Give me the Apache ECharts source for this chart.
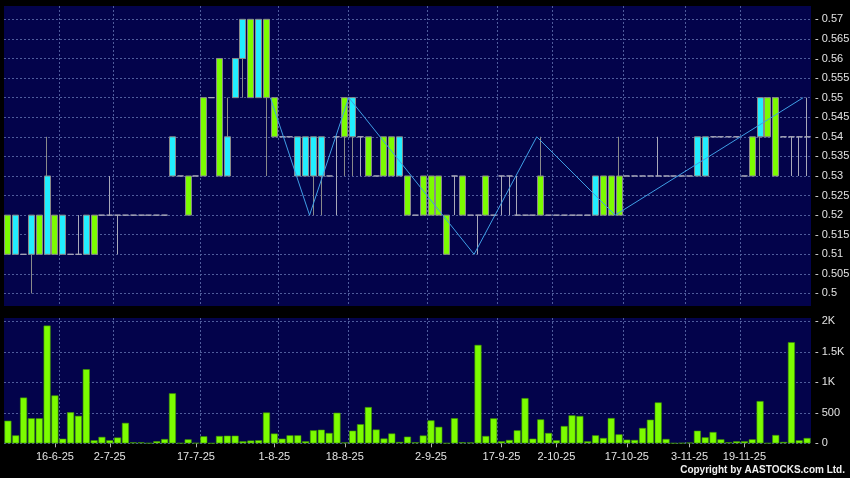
<!DOCTYPE html>
<html><head><meta charset="utf-8">
<script src="https://cdn.jsdelivr.net/npm/echarts@6/dist/echarts.min.js"></script>
<style>html,body{margin:0;padding:0;background:#000;}#c{width:850px;height:478px;}</style>
</head><body><div id="c"></div>
<script>
// ---- data ----
const dateLabels = ['16-6-25','2-7-25','17-7-25','1-8-25','18-8-25','2-9-25','17-9-25','2-10-25','17-10-25','3-11-25','19-11-25'];
const labelSlots = [6,13,24,34,43,54,63,70,79,87,94];

const open = [
 .51,.52,.51,.52,.51,.53,.51,.52,.51,.51,
 .52,.51,.52,.52,.52,.52,.52,.52,.52,.52,
 .52,.54,.53,.52,.53,.53,.55,.53,.54,.56,
 .57,.55,.57,.55,.54,.54,.54,.54,.54,.54,
 .54,.53,.54,.54,.55,.54,.53,.53,.53,.53,
 .54,.52,.52,.52,.52,.52,.51,.53,.52,.52,
 .52,.52,.52,.53,.53,.52,.52,.52,.52,.52,
 .52,.52,.52,.52,.52,.53,.52,.52,.52,.53,
 .53,.53,.53,.53,.53,.53,.53,.53,.54,.54,
 .54,.54,.54,.54,.53,.53,.55,.54,.53,.54,
 .54,.54,.54];
const close = [
 .52,.51,.51,.51,.52,.51,.52,.51,.51,.51,
 .51,.52,.52,.52,.52,.52,.52,.52,.52,.52,
 .52,.53,.53,.53,.53,.55,.55,.56,.53,.55,
 .56,.57,.55,.57,.55,.54,.54,.53,.53,.53,
 .53,.53,.54,.55,.54,.54,.54,.53,.54,.54,
 .53,.53,.52,.53,.53,.53,.52,.53,.53,.52,
 .52,.53,.52,.53,.53,.52,.52,.52,.53,.52,
 .52,.52,.52,.52,.52,.52,.53,.53,.53,.53,
 .53,.53,.53,.53,.53,.53,.53,.53,.53,.53,
 .54,.54,.54,.54,.53,.54,.54,.55,.55,.54,
 .54,.54,.54];
const low = [
 .51,.51,.51,.50,.51,.51,.51,.51,.51,.51,
 .51,.51,.52,.52,.51,.52,.52,.52,.52,.52,
 .52,.53,.53,.52,.53,.53,.55,.53,.53,.55,
 .55,.55,.55,.53,.54,.54,.54,.53,.53,.52,
 .52,.53,.52,.53,.53,.53,.53,.53,.53,.53,
 .53,.52,.52,.52,.52,.52,.51,.52,.52,.52,
 .51,.52,.52,.52,.52,.52,.52,.52,.52,.52,
 .52,.52,.52,.52,.52,.52,.52,.52,.52,.53,
 .53,.53,.53,.53,.53,.53,.53,.53,.53,.53,
 .54,.54,.54,.54,.53,.53,.53,.54,.53,.54,
 .53,.53,.53];
const high = [
 .52,.52,.51,.52,.52,.54,.52,.52,.51,.52,
 .52,.52,.52,.53,.52,.52,.52,.52,.52,.52,
 .52,.54,.53,.53,.53,.55,.55,.56,.55,.56,
 .57,.57,.57,.57,.55,.54,.54,.54,.54,.54,
 .54,.53,.54,.55,.55,.54,.54,.53,.54,.54,
 .54,.53,.52,.53,.53,.53,.52,.53,.53,.52,
 .52,.53,.52,.53,.53,.53,.52,.52,.54,.52,
 .52,.52,.52,.52,.52,.53,.53,.53,.54,.53,
 .53,.53,.53,.54,.53,.53,.53,.53,.54,.54,
 .54,.54,.54,.54,.53,.54,.55,.55,.55,.54,
 .54,.54,.55];
const volume = [
 370,130,750,410,410,1930,785,75,510,450,
 1215,50,105,50,95,335,15,15,3,35,
 70,820,3,65,5,115,0,120,125,125,
 33,45,50,505,160,76,131,131,33,213,
 223,169,501,13,207,313,594,226,79,161,
 22,109,16,128,376,270,2,412,16,13,
 1613,120,409,33,55,213,741,76,392,169,
 49,283,458,447,33,131,87,414,147,60,
 55,251,387,670,71,2,5,11,207,98,
 185,65,16,33,33,65,692,3,136,22,
 1657,49,87];
// zig-zag line turning points (index on the session boundaries) and values
const zigzagAt = [34,39,44,60,68,78,102];
const zigzagVal = [0.55,0.52,0.55,0.51,0.54,0.52,0.55];

// ---- build ----
const N = open.length;
const categories = open.map((_, i) => { const k = labelSlots.indexOf(i); return k >= 0 ? dateLabels[k] : 'd' + i; });
const boundaries = Array.from({length: N + 1}, (_, i) => 'b' + i);
const candles = open.map((o, i) => [o, close[i], low[i], high[i]]);
const zz = new Array(N + 1).fill(null);
zigzagAt.forEach((b, k) => { zz[b] = zigzagVal[k]; });

const splitAt = [7,14,25,35,44,54,63,70,79,87,94];
const isLabel = (i) => labelSlots.indexOf(i) >= 0;
const isSplit = (i) => splitAt.indexOf(i) >= 0;

const NAVY = '#03034b';
const GRIDC = '#4f5c9c';
const TXT = '#e2e2e2';
const FONT = 'Liberation Sans';
const dash = { type: [2, 2], color: GRIDC, width: 1 };

const L = 4, W = 807;
const chart = echarts.init(document.getElementById('c'), null, { renderer: 'canvas' });
chart.setOption({
  animation: false,
  backgroundColor: '#000',
  grid: [
    { left: L, top: 6, width: W, height: 300, show: true, backgroundColor: NAVY, borderWidth: 0, outerBoundsMode: 'none' },
    { left: L, top: 19.33, width: W, height: 274, show: false, outerBoundsMode: 'none' },
    { left: L, top: 318, width: W, height: 125.3, show: true, backgroundColor: NAVY, borderWidth: 0, outerBoundsMode: 'none' },
    { left: L, top: 321.3, width: W, height: 122, show: false, outerBoundsMode: 'none' }
  ],
  xAxis: [
    { type: 'category', gridIndex: 0, data: categories, boundaryGap: true,
      axisLine: { show: false }, axisTick: { show: false }, axisLabel: { show: false },
      splitLine: { show: true, interval: (i) => isSplit(i), showMaxLine: false, showMinLine: true, lineStyle: dash } },
    { type: 'category', gridIndex: 1, data: categories, show: false },
    { type: 'category', gridIndex: 0, data: boundaries, boundaryGap: false, show: false },
    { type: 'category', gridIndex: 2, data: categories, boundaryGap: true,
      axisLine: { show: false },
      axisTick: { show: true, interval: (i) => isLabel(i), alignWithLabel: true, length: 4, lineStyle: { color: '#b0b0b0' } },
      axisLabel: { interval: (i) => isLabel(i), color: TXT, fontSize: 11, fontFamily: FONT, margin: 8 },
      splitLine: { show: true, interval: (i) => isSplit(i), showMaxLine: false, lineStyle: dash } },
    { type: 'category', gridIndex: 3, data: categories, show: false }
  ],
  yAxis: [
    { type: 'value', gridIndex: 0, min: 0.4968, max: 0.5734, show: false, splitLine: { show: false } },
    { type: 'value', gridIndex: 1, position: 'right', min: 0.5, max: 0.57, interval: 0.005,
      axisLine: { show: false }, axisTick: { show: false },
      axisLabel: { formatter: (v) => '- ' + (+v.toFixed(3)), color: TXT, fontSize: 11, fontFamily: FONT, margin: 4 },
      splitLine: { show: true, lineStyle: dash } },
    { type: 'value', gridIndex: 2, min: 0, max: 2054, show: false, splitLine: { show: false } },
    { type: 'value', gridIndex: 3, position: 'right', min: 0, max: 2000, interval: 500,
      axisLine: { show: false }, axisTick: { show: false },
      axisLabel: { formatter: (v) => '- ' + (v >= 1000 ? (v / 1000) + 'K' : v), color: TXT, fontSize: 11, fontFamily: FONT, margin: 4 },
      splitLine: { show: true, lineStyle: dash } }
  ],
  series: [
    { type: 'candlestick', xAxisIndex: 0, yAxisIndex: 0, data: candles, barWidth: 6.5,
      itemStyle: { color: '#7cfc00', color0: '#22eeff', borderColor: '#8a8a8a', borderColor0: '#8a8a8a', borderColorDoji: '#a9a9b9', borderWidth: 1 } },
    { type: 'line', xAxisIndex: 2, yAxisIndex: 0, data: zz, connectNulls: true, symbol: 'none', showSymbol: false,
      lineStyle: { color: '#3f9fe6', width: 1 }, z: 5 },
    { type: 'bar', xAxisIndex: 3, yAxisIndex: 2, data: volume, barWidth: 7,
      itemStyle: { color: '#7cfc00', borderColor: '#3e9600', borderWidth: 0.6 } }
  ],
  graphic: [
    { type: 'text', right: 5, top: 465, style: { text: 'Copyright by AASTOCKS.com Ltd.', fill: '#f0f0f0', font: 'bold 10px "Liberation Sans"' } }
  ]
});
</script></body></html>
